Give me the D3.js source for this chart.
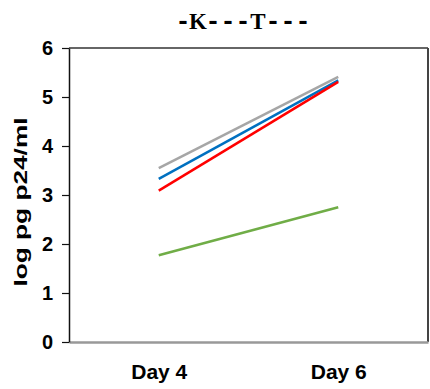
<!DOCTYPE html>
<html>
<head>
<meta charset="utf-8">
<script src="https://cdn.jsdelivr.net/npm/d3@7"></script>
<style>
  body { margin: 0; background: #fff; }
  text { font-family: "Liberation Sans", Arial, sans-serif; font-weight: bold; }
</style>
</head>
<body>
<svg></svg>
<script>
// days on the x axis
const days = ["Day 4", "Day 6"];
// one line per condition, log pg p24/ml
const grey = [3.55, 5.41];
const blue = [3.33, 5.34];
const red = [3.09, 5.31];
const green = [1.77, 2.75];
const yTicks = [0, 1, 2, 3, 4, 5, 6];
const title = "-K---T---";

const series = [
    { values: grey, color: "#a6a6a6" },
    { values: blue, color: "#0070c0" },
    { values: red, color: "#ff0000" },
    { values: green, color: "#70ad47" }
];

const svgWidth = 430, svgHeight = 389;
const margin = { top: 48, right: 2, bottom: 47, left: 69 };
const width = svgWidth - margin.left - margin.right;
const height = svgHeight - margin.top - margin.bottom;

const svg = d3.select("svg")
    .attr("width", svgWidth)
    .attr("height", svgHeight);

const g = svg.append("g")
    .attr("transform", "translate(" + margin.left + "," + margin.top + ")");

const x = d3.scalePoint().domain(days).range([0, width]).padding(0.5);
const y = d3.scaleLinear().domain([0, 6]).range([height, 0]);

// frame: top and right
g.append("line")
    .attr("x1", 0).attr("x2", width).attr("y1", 0).attr("y2", 0)
    .attr("stroke", "#333").attr("stroke-width", 1.5);
g.append("line")
    .attr("x1", width).attr("x2", width).attr("y1", 0).attr("y2", height)
    .attr("stroke", "#444").attr("stroke-width", 2);

// bottom axis (grey line, labels only)
const xAxis = g.append("g")
    .attr("transform", "translate(0," + height + ")")
    .call(d3.axisBottom(x).tickSize(0).tickPadding(22));
xAxis.select(".domain").attr("stroke", "#999").attr("stroke-width", 2.5);
xAxis.selectAll("text")
    .attr("fill", "#000")
    .style("font-size", "21px")
    .style("font-family", "'Liberation Sans', Arial, sans-serif");

// left axis
const yAxis = g.append("g")
    .call(d3.axisLeft(y).tickValues(yTicks).tickFormat(d3.format("d"))
        .tickSize(7).tickPadding(9).tickSizeOuter(0));
yAxis.select(".domain").attr("stroke", "#111").attr("stroke-width", 1.5);
yAxis.selectAll(".tick line").attr("stroke", "#111").attr("stroke-width", 1.2);
yAxis.selectAll("text")
    .attr("fill", "#000")
    .style("font-size", "20px")
    .style("font-family", "'Liberation Sans', Arial, sans-serif");

const line = d3.line()
    .x(function(d, i) { return x(days[i]); })
    .y(function(d) { return y(d); });

g.selectAll(".series")
    .data(series)
    .enter()
    .append("path")
    .attr("class", "series")
    .attr("fill", "none")
    .attr("stroke", function(d) { return d.color; })
    .attr("stroke-width", 2.5)
    .attr("d", function(d) { return line(d.values); });

// y label
svg.append("text")
    .attr("transform", "translate(27,202) rotate(-90)")
    .attr("text-anchor", "middle")
    .attr("textLength", 169)
    .attr("lengthAdjust", "spacingAndGlyphs")
    .style("font-size", "19px")
    .text("log pg p24/ml");

// title, typewriter look: fixed 15px cells, serif letters
const titleText = svg.append("text")
    .attr("y", 29)
    .attr("text-anchor", "middle");
titleText.selectAll("tspan")
    .data(title.split(""))
    .enter()
    .append("tspan")
    .attr("x", function(d, i) { return 243 + (i - 4) * 15; })
    .style("font-family", function(d) {
        return d === "-" ? "'Liberation Mono', monospace" : "'Liberation Serif', serif";
    })
    .style("font-size", function(d) { return d === "-" ? "25px" : "23px"; })
    .text(function(d) { return d; });
</script>
</body>
</html>
